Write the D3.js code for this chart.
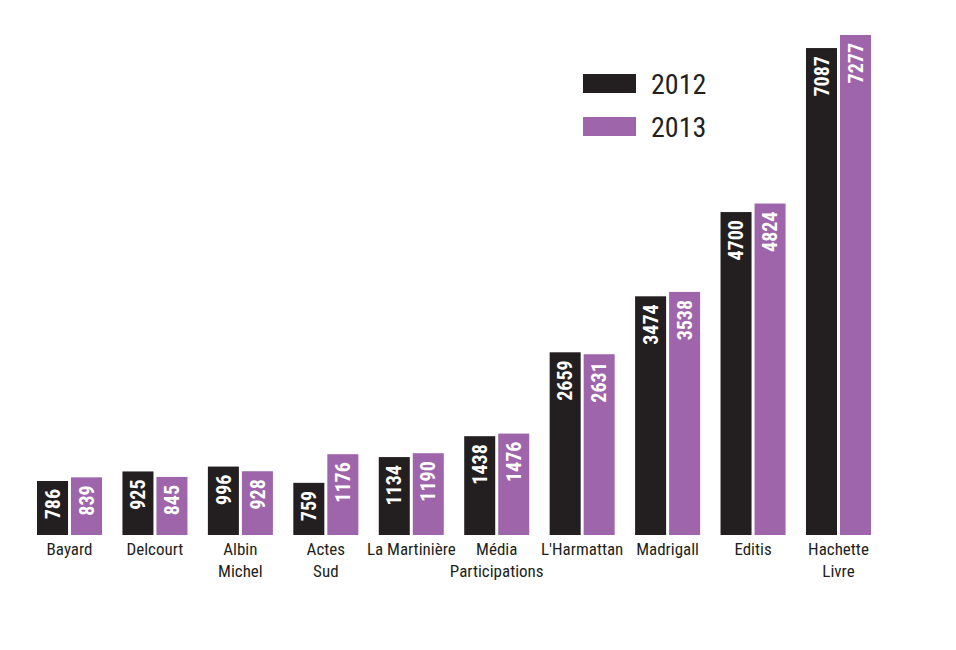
<!DOCTYPE html>
<html>
<head>
<meta charset="utf-8">
<script src="https://cdn.jsdelivr.net/npm/d3@7"></script>
<style>
  body { margin: 0; background: #fff; }
  svg text { font-family: "Liberation Sans Narrow", "Roboto Condensed", sans-serif; }
</style>
</head>
<body>
<div id="chart"></div>
<script>
// publishers (labels split on two lines where the picture does)
var categories = ['Bayard', 'Delcourt', 'Albin|Michel', 'Actes|Sud', 'La Martinière',
    'Média|Participations', "L'Harmattan", 'Madrigall', 'Editis', 'Hachette|Livre'];
var years = ['2012', '2013'];
var values2012 = [786, 925, 996, 759, 1134, 1438, 2659, 3474, 4700, 7087];
var values2013 = [839, 845, 928, 1176, 1190, 1476, 2631, 3538, 4824, 7277];
var colors = ['#231f20', '#9e65aa'];

var width = 956, height = 650;
var baseY = 535;

var svg = d3.select('#chart').append('svg')
    .attr('width', width)
    .attr('height', height);

var x0 = d3.scaleBand()
    .domain(d3.range(categories.length))
    .range([37, 871])
    .paddingInner(0.239)
    .paddingOuter(0);

var x1 = d3.scaleBand()
    .domain(years)
    .range([0, x0.bandwidth()])
    .paddingInner(0.088);

var y = d3.scaleLinear()
    .domain([0, 7277])
    .range([baseY, 35]);

var rows = categories.map(function(c, i){
    return { cat: c, i: i, vals: [values2012[i], values2013[i]] };
});

var groups = svg.selectAll('g.grp')
    .data(rows)
    .enter().append('g')
    .attr('class', 'grp')
    .attr('transform', function(d){ return 'translate(' + x0(d.i) + ',0)'; });

var bars = groups.selectAll('g.bar')
    .data(function(d){ return d.vals.map(function(v, k){ return { v: v, k: k }; }); })
    .enter().append('g')
    .attr('class', 'bar');

bars.append('rect')
    .attr('x', function(d){ return x1(years[d.k]); })
    .attr('y', function(d){ return y(d.v); })
    .attr('width', x1.bandwidth())
    .attr('height', function(d){ return baseY - y(d.v); })
    .attr('fill', function(d){ return colors[d.k]; });

bars.append('text')
    .attr('transform', function(d){
        var cx = x1(years[d.k]) + x1.bandwidth() / 2;
        return 'translate(' + cx + ',' + (y(d.v) + 8) + ') rotate(-90)';
    })
    .attr('text-anchor', 'end')
    .attr('dy', '0.36em')
    .attr('fill', '#fff')
    .style('font-size', '20px')
    .style('font-weight', 'bold')
    .text(function(d){ return d.v; });

// category labels
var labels = groups.append('text')
    .attr('x', x0.bandwidth() / 2)
    .attr('y', 555)
    .attr('text-anchor', 'middle')
    .attr('fill', '#231f20')
    .style('font-size', '17px');

labels.selectAll('tspan')
    .data(function(d){ return d.cat.split('|'); })
    .enter().append('tspan')
    .attr('x', x0.bandwidth() / 2)
    .attr('dy', function(d, i){ return i ? 22 : 0; })
    .text(function(d){ return d; });

// legend
var legend = svg.append('g')
    .attr('transform', 'translate(583,74)');

var items = legend.selectAll('g')
    .data(years)
    .enter().append('g')
    .attr('transform', function(d, i){ return 'translate(0,' + (i * 43) + ')'; });

items.append('rect')
    .attr('width', 53)
    .attr('height', 19)
    .attr('fill', function(d, i){ return colors[i]; });

items.append('text')
    .attr('x', 68)
    .attr('y', 10)
    .attr('dy', '0.36em')
    .attr('fill', '#231f20')
    .style('font-size', '28px')
    .text(function(d){ return d; });
</script>
</body>
</html>
